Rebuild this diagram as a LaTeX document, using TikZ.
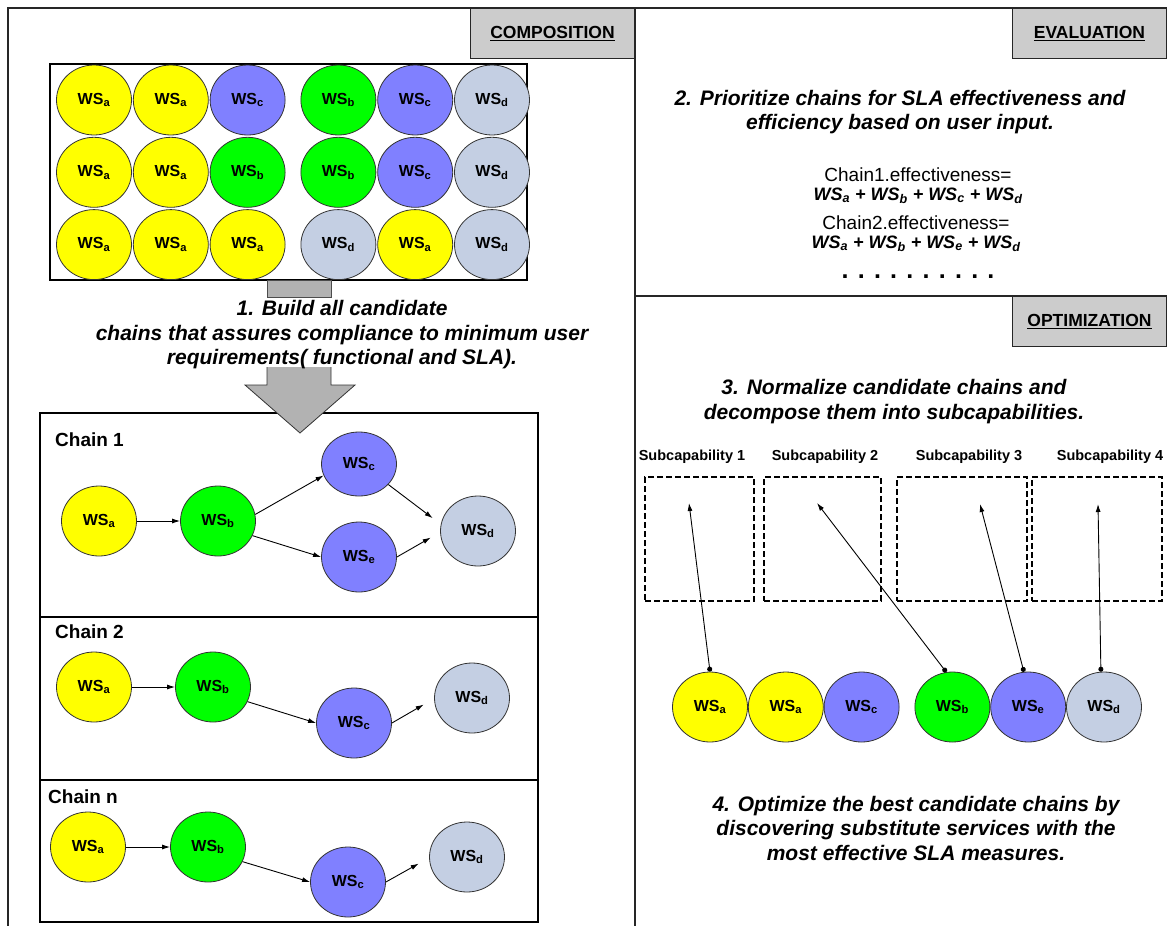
\documentclass[tikz,border=0pt]{standalone}
\usepackage{fontspec}
\setmainfont{Liberation Sans}
\usepackage{tikz}
\usetikzlibrary{arrows,arrows.meta,shapes}
\usetikzlibrary{positioning}
\usetikzlibrary{calc}
\definecolor{wsYellow}{rgb}{1,1,0}
\definecolor{wsGreen}{rgb}{0,1,0}
\definecolor{wsBlue}{rgb}{0.5,0.5,1}
\definecolor{wsGrey}{rgb}{0.77,0.81,0.89}
\definecolor{tabGrey}{rgb}{0.8,0.8,0.8}
\definecolor{arrGrey}{rgb}{0.7,0.7,0.7}

\begin{document}
\begin{tikzpicture}[>=latex', x=1pt, y=1pt]
\tikzstyle{ws}=[ellipse, draw=black!80, line width=0.8pt, minimum width=75pt, minimum height=70pt, inner sep=0pt, font=\fontsize{16}{16}\selectfont\bfseries]
\tikzstyle{wsa}=[ws, fill=wsYellow]
\tikzstyle{wsb}=[ws, fill=wsGreen]
\tikzstyle{wsc}=[ws, fill=wsBlue]
\tikzstyle{wsd}=[ws, fill=wsGrey]
\tikzstyle{frame}=[line width=1.3pt, draw=black!85]
\tikzstyle{tab}=[draw=black!85, fill=tabGrey, line width=1pt, anchor=north east, minimum height=50pt, inner sep=0pt, font=\fontsize{17.5}{18}\selectfont\bfseries]
\tikzstyle{stepTxt}=[font=\fontsize{21}{24.5}\selectfont\bfseries\itshape, align=center, inner sep=0pt]
\tikzstyle{chainLbl}=[anchor=west, font=\fontsize{19}{19}\selectfont\bfseries, inner sep=0pt]
\tikzstyle{subLbl}=[font=\fontsize{14.5}{15}\selectfont\bfseries, inner sep=0pt]
\tikzstyle{subBox}=[draw, dashed, dash pattern=on 6pt off 3pt, line width=1.2pt, minimum height=124pt, inner sep=0pt]
\tikzstyle{edge}=[-{Latex[length=8pt,width=5pt]}, line width=0.9pt]
\tikzstyle{subEdge}=[{Circle[length=5pt]}-{Latex[length=8pt,width=5pt]}, line width=0.9pt]
\useasboundingbox (0,0) rectangle (1167,-926);
% panels
\draw[frame] (8,-935) -- (8,-8) -- (1170,-8);
\draw[frame] (635,-8) -- (635,-935);
\draw[frame] (635,-296) -- (1170,-296);
\node[tab, minimum width=164pt] (tComp) at (635,-8) {\underline{COMPOSITION}};
\node[tab, minimum width=154pt] (tEval) at (1167,-8) {\underline{EVALUATION}};
\node[tab, minimum width=154pt] (tOpt) at (1167,-296) {\underline{OPTIMIZATION}};

% candidate services
\draw[line width=1.2pt] (50,-64) rectangle (527,-280);
\node[wsa] (g11) at (94,-100) {WS\textsubscript{a}};
\node[wsa, right=1pt of g11] (g12) {WS\textsubscript{a}};
\node[wsc, right=1pt of g12] (g13) {WS\textsubscript{c}};
\node[wsb, right=15pt of g13] (g14) {WS\textsubscript{b}};
\node[wsc, right=1pt of g14] (g15) {WS\textsubscript{c}};
\node[wsd, right=1pt of g15] (g16) {WS\textsubscript{d}};
\node[wsa, below=1.5pt of g11] (g21) {WS\textsubscript{a}};
\node[wsa, right=1pt of g21] (g22) {WS\textsubscript{a}};
\node[wsb, right=1pt of g22] (g23) {WS\textsubscript{b}};
\node[wsb, right=15pt of g23] (g24) {WS\textsubscript{b}};
\node[wsc, right=1pt of g24] (g25) {WS\textsubscript{c}};
\node[wsd, right=1pt of g25] (g26) {WS\textsubscript{d}};
\node[wsa, below=1.5pt of g21] (g31) {WS\textsubscript{a}};
\node[wsa, right=1pt of g31] (g32) {WS\textsubscript{a}};
\node[wsa, right=1pt of g32] (g33) {WS\textsubscript{a}};
\node[wsd, right=15pt of g33] (g34) {WS\textsubscript{d}};
\node[wsa, right=1pt of g34] (g35) {WS\textsubscript{a}};
\node[wsd, right=1pt of g35] (g36) {WS\textsubscript{d}};
\filldraw[fill=arrGrey, draw=black!70, line width=0.8pt] (267,-280) rectangle (331,-297);

% chain boxes
\draw[line width=1.2pt] (40,-413) rectangle (538,-617);
\draw[line width=1.2pt] (40,-617) rectangle (538,-780);
\draw[line width=1.2pt] (40,-780) rectangle (538,-922);

% block arrow
\fill[arrGrey] (267,-367) -- (267,-385) -- (245,-385) -- (300,-433) -- (355,-385) -- (331,-385) -- (331,-367) -- cycle;
\draw[black!80, line width=0.8pt] (267,-367) -- (267,-385) -- (245,-385) -- (300,-433) -- (355,-385) -- (331,-385) -- (331,-367);
\node[stepTxt] (build) at (342,-335) {1. Build all candidate\\chains that assures compliance to minimum user\\requirements( functional and SLA).};

% chain 1
\node[chainLbl] (ch1) at (55,-440) {Chain 1};
\node[wsa] (c1a) at (99,-521) {WS\textsubscript{a}};
\node[wsb] (c1b) at (218,-521) {WS\textsubscript{b}};
\node[wsc, minimum height=64pt] (c1c) at (359,-464) {WS\textsubscript{c}};
\node[wsc] (c1e) at (359,-557) {WS\textsubscript{e}};
\node[wsd] (c1d) at (478,-531) {WS\textsubscript{d}};
\draw[edge] (c1a) -- (c1b);
\draw[edge] (c1b.10) -- (c1c.198);
\draw[edge] (c1b.-23) -- (c1e.west);
\draw[edge] (c1c.-35) -- ([xshift=-10pt]c1d.160);
\draw[edge] (c1e.east) -- ([xshift=-10pt]c1d.190);

% chain 2
\node[chainLbl] (ch2) at (55,-632) {Chain 2};
\node[wsa] (c2a) at (94,-687) {WS\textsubscript{a}};
\node[wsb] (c2b) at (213,-687) {WS\textsubscript{b}};
\node[wsc] (c2c) at (354,-723) {WS\textsubscript{c}};
\node[wsd] (c2d) at (472,-698) {WS\textsubscript{d}};
\draw[edge] (c2a) -- (c2b);
\draw[edge] (c2b.-23) -- (c2c.west);
\draw[edge] (c2c.east) -- ([xshift=-11pt]c2d.190);

% chain n
\node[chainLbl] (chn) at (48,-797) {Chain n};
\node[wsa] (cna) at (88,-847) {WS\textsubscript{a}};
\node[wsb] (cnb) at (208,-847) {WS\textsubscript{b}};
\node[wsc] (cnc) at (348,-882) {WS\textsubscript{c}};
\node[wsd] (cnd) at (467,-857) {WS\textsubscript{d}};
\draw[edge] (cna) -- (cnb);
\draw[edge] (cnb.-23) -- (cnc.west);
\draw[edge] (cnc.east) -- ([xshift=-11pt]cnd.190);

% evaluation
\node[stepTxt] (prio) at (900,-112) {2. Prioritize chains for SLA effectiveness and\\efficiency based on user input.};
\node[align=center, inner sep=0pt, font=\fontsize{19}{19}\selectfont] (eff1) at (918,-185.5) {Chain1.effectiveness=\\{\fontsize{18}{19}\selectfont\bfseries\itshape WS\textsubscript{a} + WS\textsubscript{b} + WS\textsubscript{c} + WS\textsubscript{d}}};
\node[align=center, inner sep=0pt, font=\fontsize{19}{19}\selectfont] (eff2) at (916,-233.5) {Chain2.effectiveness=\\{\fontsize{18}{19}\selectfont\bfseries\itshape WS\textsubscript{a} + WS\textsubscript{b} + WS\textsubscript{e} + WS\textsubscript{d}}};
\node[inner sep=0pt, font=\fontsize{25}{25}\selectfont\bfseries] (dots) at (918,-277) {. . . . . . . . . .};

% optimization
\node[stepTxt] (norm) at (894,-401.5) {3. Normalize candidate chains and\\decompose them into subcapabilities.};
\node[subLbl] (l1) at (692,-457) {Subcapability 1};
\node[subLbl] (l2) at (825,-457) {Subcapability 2};
\node[subLbl] (l3) at (969,-457) {Subcapability 3};
\node[subLbl] (l4) at (1110,-457) {Subcapability 4};
\node[subBox, minimum width=109pt] (s1) at (699.5,-539) {};
\node[subBox, minimum width=117pt] (s2) at (822.5,-539) {};
\node[subBox, minimum width=130pt] (s3) at (962,-539) {};
\node[subBox, minimum width=130pt] (s4) at (1097,-539) {};
\node[wsa] (o1) at (710,-707) {WS\textsubscript{a}};
\node[wsa, right=0pt of o1] (o2) {WS\textsubscript{a}};
\node[wsc, right=0pt of o2] (o3) {WS\textsubscript{c}};
\node[wsb, right=15pt of o3] (o4) {WS\textsubscript{b}};
\node[wsc, right=0pt of o4] (o5) {WS\textsubscript{e}};
\node[wsd, right=0pt of o5] (o6) {WS\textsubscript{d}};
\coordinate (t1) at (689,-503);
\coordinate (t2) at (817,-503);
\coordinate (t3) at (980,-504);
\coordinate (t4) at (1098,-504);
\draw[subEdge] (o1.90) -- (t1);
\draw[subEdge] (o4.100) -- (t2);
\draw[subEdge] (o5.97) -- (t3);
\draw[subEdge] (o6.95) -- (t4);
\node[stepTxt] (optim) at (916,-828) {4. Optimize the best candidate chains by\\discovering substitute services with the\\most effective SLA measures.};
\end{tikzpicture}
\end{document}
